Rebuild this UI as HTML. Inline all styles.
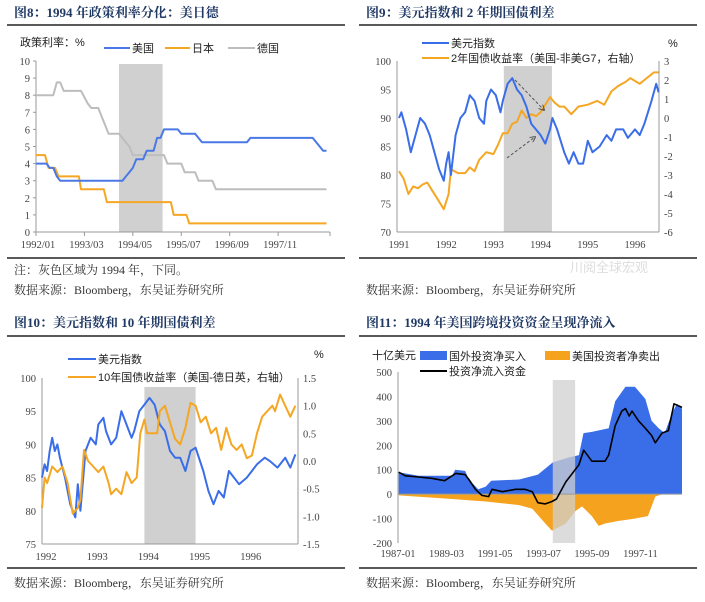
<!DOCTYPE html>
<html><head><meta charset="utf-8">
<style>
body{margin:0;background:#fff;}
svg{display:block;font-family:"Liberation Serif","Noto Serif CJK SC",serif;}
.t{font-family:"Liberation Serif","Noto Serif CJK SC",serif;font-weight:bold;fill:#1f3864;font-size:13px;}
.tk{font-size:10.5px;fill:#444;}
.lg{font-family:"Liberation Sans","Noto Sans CJK SC",sans-serif;font-size:11px;fill:#222;}
.src{font-family:"Liberation Serif","Noto Serif CJK SC",serif;font-size:12px;fill:#333;}
</style></head><body>
<svg id="root" width="705" height="602" viewBox="0 0 705 602">
<!-- static chrome -->
<g>
<text class="t" x="14" y="17">图8：1994 年政策利率分化：美日德</text>
<line x1="7" y1="25" x2="345" y2="25" stroke="#222" stroke-width="1.5"/>
<line x1="7" y1="258" x2="345" y2="258" stroke="#222" stroke-width="1.5"/>
<text class="src" x="14" y="274">注：灰色区域为 1994 年，下同。</text>
<text class="src" x="14" y="294">数据来源：Bloomberg，东吴证券研究所</text>
<text class="lg" x="20" y="46">政策利率：%</text>
<line x1="104" y1="48" x2="130" y2="48" stroke="#4a78e6" stroke-width="2"/><text class="lg" x="132" y="52">美国</text>
<line x1="165" y1="48" x2="190" y2="48" stroke="#f5a623" stroke-width="2"/><text class="lg" x="192" y="52">日本</text>
<line x1="228" y1="48" x2="255" y2="48" stroke="#bdbdbd" stroke-width="2"/><text class="lg" x="257" y="52">德国</text>
</g>
<g>
<text class="t" x="366" y="17">图9：美元指数和 2 年期国债利差</text>
<line x1="359" y1="25" x2="697" y2="25" stroke="#222" stroke-width="1.5"/>
<line x1="359" y1="258" x2="697" y2="258" stroke="#222" stroke-width="1.5"/>
<text class="src" x="366" y="294">数据来源：Bloomberg，东吴证券研究所</text>
<line x1="422" y1="43" x2="449" y2="43" stroke="#3a6ee8" stroke-width="2"/><text class="lg" x="451" y="47">美元指数</text>
<line x1="422" y1="58" x2="449" y2="58" stroke="#f5a623" stroke-width="2"/><text class="lg" x="451" y="62">2年国债收益率（美国-非美G7，右轴）</text>
<text class="lg" x="668" y="47">%</text>
<text x="570" y="272" font-size="13" fill="#ddd" font-family="Liberation Sans,Noto Sans CJK SC,sans-serif">川阅全球宏观</text>
</g>
<g>
<text class="t" x="14" y="327">图10：美元指数和 10 年期国债利差</text>
<line x1="7" y1="336" x2="345" y2="336" stroke="#222" stroke-width="1.5"/>
<line x1="7" y1="568" x2="345" y2="568" stroke="#222" stroke-width="1.5"/>
<text class="src" x="14" y="587">数据来源：Bloomberg，东吴证券研究所</text>
<line x1="68" y1="359" x2="96" y2="359" stroke="#3a6ee8" stroke-width="2"/><text class="lg" x="98" y="363">美元指数</text>
<line x1="68" y1="377" x2="96" y2="377" stroke="#f5a623" stroke-width="2"/><text class="lg" x="98" y="381">10年国债收益率（美国-德日英，右轴）</text>
<text class="lg" x="314" y="358">%</text>
</g>
<g>
<text class="t" x="366" y="327">图11：1994 年美国跨境投资资金呈现净流入</text>
<line x1="359" y1="336" x2="697" y2="336" stroke="#222" stroke-width="1.5"/>
<line x1="359" y1="568" x2="697" y2="568" stroke="#222" stroke-width="1.5"/>
<text class="src" x="366" y="587">数据来源：Bloomberg，东吴证券研究所</text>
<text class="lg" x="372" y="359">十亿美元</text>
<rect x="420" y="351" width="27" height="9" fill="#3a6ee8"/><text class="lg" x="449" y="360">国外投资净买入</text>
<rect x="545" y="351" width="25" height="9" fill="#f5a21e"/><text class="lg" x="572" y="360">美国投资者净卖出</text>
<line x1="420" y1="371" x2="447" y2="371" stroke="#000" stroke-width="2"/><text class="lg" x="449" y="375">投资净流入资金</text>
</g>
<g id="g8"></g><g id="g9"></g><g id="g10"></g><g id="g11"></g>
</svg>
<script>
// ---- Chart 8 data (months since 1992/01) ----
const c8Ticks = ["1992/01","1993/03","1994/05","1995/07","1996/09","1997/11"];
const c8TickMonths = [0,14,28,42,56,70];
const c8YTicks = [0,1,2,3,4,5,6,7,8,9,10];
const usM = [0,3,4,5,6,7,25,26,27,28,29,31,32,34,35,36,37,41,42,46,48,61,62,80,83,84];
const usV = [4,4,3.75,3.75,3.25,3,3,3.25,3.5,3.75,4.25,4.25,4.75,4.75,5.5,5.5,6,6,5.75,5.75,5.25,5.25,5.5,5.5,4.75,4.75];
const jpM = [0,2.6,3.6,5.5,6.5,12.4,13,19.6,20.5,39,39.8,43.5,44.3,84];
const jpV = [4.5,4.5,3.75,3.75,3.25,3.25,2.5,2.5,1.75,1.75,1,1,0.5,0.5];
const deM = [0,5,6,7,8,13,15,16,18,19,21,24,26,27,28,37,38,42,43,46,47,51,52,84];
const deV = [8,8,8.75,8.75,8.25,8.25,7.5,7.25,7.25,6.75,5.75,5.75,5.25,5,4.5,4.5,4,4,3.5,3.5,3,3,2.5,2.5];
// ---- Chart 9 data ----
const c9Years = ["1991","1992","1993","1994","1995","1996"];
const c9LeftTicks = [70,75,80,85,90,95,100];
const c9RightTicks = [-6,-5,-4,-3,-2,-1,0,1,2,3];
const dxy9T = [1991,1991.05,1991.15,1991.25,1991.35,1991.45,1991.55,1991.65,1991.75,1991.85,1991.95,1992,1992.05,1992.1,1992.2,1992.3,1992.4,1992.5,1992.6,1992.7,1992.8,1992.85,1992.95,1993.05,1993.15,1993.2,1993.3,1993.4,1993.5,1993.6,1993.7,1993.8,1993.9,1994,1994.1,1994.2,1994.25,1994.35,1994.5,1994.6,1994.7,1994.8,1994.9,1995,1995.1,1995.25,1995.4,1995.5,1995.6,1995.75,1995.85,1996,1996.1,1996.2,1996.35,1996.45,1996.5];
const dxy9V = [90,91,88,84,87,90,89,87,84,81,79,82,84,80,87,90,91,94,93,90,89,93,95,94,91,93,96,97,95,94,92,89,88,87,85.5,88,90,88,84,82,84,82,82,86,84,85,87,86,88,88,86.5,88,87,89,93,96,94.5];
const sp2T = [1991,1991.1,1991.2,1991.3,1991.4,1991.5,1991.6,1991.7,1991.8,1991.95,1992.05,1992.1,1992.25,1992.4,1992.5,1992.6,1992.7,1992.85,1993,1993.1,1993.2,1993.3,1993.4,1993.5,1993.6,1993.7,1993.8,1993.9,1994,1994.2,1994.3,1994.4,1994.5,1994.65,1994.8,1995,1995.2,1995.35,1995.5,1995.65,1995.8,1995.9,1996.1,1996.2,1996.3,1996.4,1996.5];
const sp2V = [-2.8,-3.2,-4,-3.6,-3.7,-3.5,-3.4,-3.8,-4.2,-4.8,-4,-2.7,-2.9,-2.9,-2.6,-2.8,-2.2,-1.8,-1.9,-1.4,-0.8,-0.8,-0.3,-0.2,0.4,0,0.2,0.1,0.3,1.1,0.8,0.6,0.6,0.2,0.6,0.7,0.9,0.7,1.4,1.7,1.9,2.1,1.8,2.0,2.2,2.4,2.4];
// ---- Chart 10 data ----
const c10Years = ["1992","1993","1994","1995","1996"];
const c10LeftTicks = [75,80,85,90,95,100];
const c10RightTicks = [-1.5,-1.0,-0.5,0.0,0.5,1.0,1.5];
const dxy10T = [1992,1992.05,1992.1,1992.15,1992.2,1992.25,1992.3,1992.35,1992.45,1992.5,1992.55,1992.6,1992.65,1992.7,1992.75,1992.85,1992.95,1993.05,1993.1,1993.2,1993.25,1993.35,1993.45,1993.55,1993.65,1993.75,1993.8,1993.9,1994,1994.1,1994.2,1994.3,1994.4,1994.5,1994.6,1994.7,1994.8,1994.9,1995,1995.15,1995.25,1995.35,1995.45,1995.55,1995.65,1995.75,1995.85,1996,1996.1,1996.2,1996.35,1996.45,1996.6,1996.75,1996.85,1996.95];
const dxy10V = [85,87,86,89,91,89,90,88,85,83,81,80,79,84,80,89,91,90,93,94,92,90,91,95,93,91,92,95,96,97,96,93,92,89,88,88,86,89,89.5,86,83,81,83,82,86,85,84,85,86,87,88,87.5,86.5,88,86.5,88.5];
const sp10T = [1992,1992.05,1992.1,1992.2,1992.3,1992.4,1992.5,1992.6,1992.7,1992.75,1992.82,1992.9,1993,1993.1,1993.2,1993.3,1993.35,1993.45,1993.55,1993.65,1993.75,1993.85,1993.92,1994,1994.05,1994.15,1994.25,1994.3,1994.4,1994.5,1994.6,1994.7,1994.8,1994.9,1995,1995.1,1995.2,1995.3,1995.4,1995.5,1995.6,1995.7,1995.8,1995.9,1996,1996.1,1996.2,1996.3,1996.4,1996.5,1996.55,1996.65,1996.75,1996.85,1996.95];
const sp10V = [-0.85,-0.3,-0.4,-0.1,-0.2,-0.1,-0.4,-0.95,-0.85,-0.7,0.2,0,-0.1,-0.2,-0.1,-0.4,-0.6,-0.5,-0.6,-0.2,-0.4,-0.3,0.5,0.75,0.5,0.5,0.5,0.9,1.0,0.7,0.4,0.3,0.6,1.05,1.0,0.7,0.8,0.5,0.6,0.2,0.6,0.3,0.2,0.3,0.05,0.1,0.5,0.8,0.9,1.0,0.9,1.2,1.0,0.8,1.0];
// ---- Chart 11 data (months since 1987-01) ----
const c11Ticks = ["1987-01","1989-03","1991-05","1993-07","1995-09","1997-11"];
const c11TickMonths = [0,26,52,78,104,130];
const c11YTicks = [-200,-100,0,100,200,300,400,500];
const buyM = [0.4,11,29,30.7,36,38,43,47,50,65,75,83,91.5,97,99.5,104,113,116.5,122,127,132.6,136,139.8,143,146.9,149.6,152.3];
const buyV = [90,75,75,100,95,60,20,30,55,60,80,130,150,160,250,255,270,380,440,440,390,300,270,250,330,370,350];
const sellM = [0.4,29,47,65,72,79,82.6,90,95,98.7,104,107.6,111,118,127,134,136,138,141.6,152.3];
const sellV = [-5,-20,-30,-45,-60,-120,-150,-120,-70,-50,-90,-130,-120,-110,-100,-90,-50,-10,0,0];
const netM = [0.4,3.9,11,18,25,29,31,36,38,41.5,45,48.6,50.4,56,63,68,72,75,79,82.6,85,90,93,97,99.6,104,111,113,116.5,120,122,124,125.5,129,132.6,136,138,141.6,145,148,152.3];
const netV = [90,75,70,65,55,75,85,80,60,20,-5,-10,20,10,20,20,10,-35,-40,-30,-20,50,80,120,180,135,135,160,280,340,350,320,340,300,270,240,210,250,260,370,355];

const NS="http://www.w3.org/2000/svg";
function mk(parent,tag,attrs){const e=document.createElementNS(NS,tag);for(const k in attrs)e.setAttribute(k,attrs[k]);parent.appendChild(e);return e;}
function lin(d0,d1,r0,r1){return v=>r0+(v-d0)/(d1-d0)*(r1-r0);}
function poly(g,xs,ys,sx,sy,color,w,name){
  const pts=xs.map((x,i)=>sx(x).toFixed(1)+","+sy(ys[i]).toFixed(1)).join(" ");
  const p=mk(g,"polyline",{points:pts,fill:"none",stroke:color,"stroke-width":w,"stroke-linejoin":"round"});
  
  
  return p;
}
function area(g,xs,ys,sx,sy,base,color,name){
  let d="M"+sx(xs[0]).toFixed(1)+","+sy(base).toFixed(1);
  xs.forEach((x,i)=>{d+=" L"+sx(x).toFixed(1)+","+sy(ys[i]).toFixed(1);});
  d+=" L"+sx(xs[xs.length-1]).toFixed(1)+","+sy(base).toFixed(1)+" Z";
  const p=mk(g,"path",{d:d,fill:color});
  
  
}
function txt(g,x,y,s,anchor,name){const t=mk(g,"text",{x:x,y:y,"class":"tk","text-anchor":anchor});t.textContent=s;
  
  
  return t;}
function axisLine(g,x1,y1,x2,y2){mk(g,"line",{x1:x1,y1:y1,x2:x2,y2:y2,stroke:"#999","stroke-width":1});}
function band(g,x0,x1,y0,y1,op){const r=mk(g,"rect",{x:x0,y:y0,width:x1-x0,height:y1-y0,fill:"#d0d0d0","fill-opacity":op});
  
  }

// Chart 8
(function(){
  const g=document.getElementById("g8");
  const sx=lin(0,85,36,330), sy=lin(0,10,232,61);
  band(g,sx(24),sx(36.6),64,232,1);
  axisLine(g,36,61,36,232);axisLine(g,36,232,330,232);
  c8YTicks.forEach(v=>{txt(g,30,sy(v)+4,String(v),"end","y-tick");mk(g,"line",{x1:33,x2:36,y1:sy(v),y2:sy(v),stroke:"#999"});});
  c8Ticks.forEach((s,i)=>{txt(g,sx(c8TickMonths[i])+2,248,s,"middle","x-tick");mk(g,"line",{x1:sx(c8TickMonths[i]),x2:sx(c8TickMonths[i]),y1:232,y2:236,stroke:"#999"});});
  mk(g,"line",{x1:330,x2:330,y1:232,y2:236,stroke:"#999"});
  poly(g,deM,deV,sx,sy,"#bdbdbd",2,"germany-line");
  poly(g,jpM,jpV,sx,sy,"#f5a623",2,"japan-line");
  poly(g,usM,usV,sx,sy,"#4a78e6",2,"us-line");
})();
// Chart 9
(function(){
  const g=document.getElementById("g9");
  const sx=lin(1991,1996,399,635), sl=lin(70,100,232,61), sr=lin(-6,3,232,61);
  band(g,sx(1993.22),sx(1994.24),66,232,1);
  axisLine(g,397,61,397,232);axisLine(g,397,232,659,232);axisLine(g,659,61,659,232);
  c9LeftTicks.forEach(v=>txt(g,391,sl(v)+4,String(v),"end","left-y-tick"));
  c9RightTicks.forEach(v=>txt(g,664,sr(v)+4,String(v),"start","right-y-tick"));
  c9Years.forEach((s,i)=>txt(g,sx(1991+i),248,s,"middle","x-tick"));
  poly(g,sp2T,sp2V,sx,sr,"#f5a623",2,"spread-2y-line");
  poly(g,dxy9T,dxy9V,sx,sl,"#3a6ee8",2,"dxy-line");
  const defs=mk(g,"defs",{});const m=mk(defs,"marker",{id:"ah",markerWidth:6,markerHeight:6,refX:5,refY:3,orient:"auto"});mk(m,"path",{d:"M0,0 L6,3 L0,6",fill:"none",stroke:"#555"});
  mk(g,"line",{x1:515,y1:80,x2:544,y2:110,stroke:"#555","stroke-dasharray":"3,2","marker-end":"url(#ah)"});
  mk(g,"line",{x1:507,y1:158,x2:535,y2:137,stroke:"#555","stroke-dasharray":"3,2","marker-end":"url(#ah)"});
})();
// Chart 10
(function(){
  const g=document.getElementById("g10");
  const sx=lin(1992,1997,42,298), sl=lin(75,100,544,378), sr=lin(-1.5,1.5,544,378);
  band(g,sx(1994),sx(1995),387,544,1);
  axisLine(g,42,378,42,544);axisLine(g,42,544,298,544);axisLine(g,298,378,298,544);
  c10LeftTicks.forEach(v=>txt(g,36,sl(v)+4,String(v),"end","left-y-tick"));
  c10RightTicks.forEach(v=>txt(g,303,sr(v)+4,v.toFixed(1),"start","right-y-tick"));
  c10Years.forEach((s,i)=>txt(g,sx(1992+i)+4,560,s,"middle","x-tick"));
  poly(g,dxy10T,dxy10V,sx,sl,"#3a6ee8",2,"dxy-line-10");
  poly(g,sp10T,sp10V,sx,sr,"#f5a623",2,"spread-10y-line");
})();
// Chart 11
(function(){
  const g=document.getElementById("g11");
  const sx=lin(0,152.3,398,682), sy=lin(-200,500,543,372);
  area(g,buyM,buyV,sx,sy,0,"#3a6ee8","foreign-buy-area");
  area(g,sellM,sellV,sx,sy,0,"#f5a21e","us-sell-area");
  band(g,sx(83),sx(95),380,543,0.75);
  axisLine(g,398,372,398,543);axisLine(g,398,sy(0),682,sy(0));
  c11YTicks.forEach(v=>txt(g,392,sy(v)+4,String(v),"end","y-tick"));
  c11Ticks.forEach((s,i)=>txt(g,sx(c11TickMonths[i]),557,s,"middle","x-tick"));
  poly(g,netM,netV,sx,sy,"#000",1.6,"net-flow-line");
})();
</script>
</body></html>
